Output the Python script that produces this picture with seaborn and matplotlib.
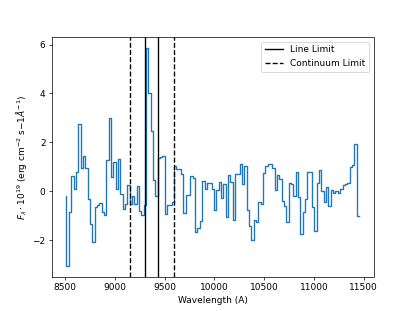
import numpy as np
import pandas as pd
import matplotlib
matplotlib.use("Agg")
import matplotlib.pyplot as plt
import seaborn as sns

wavelength = [
    8514.0, 8537.5, 8561.0, 8584.5, 8608.0, 8631.5, 8655.0, 8678.5, 8702.0, 8725.5,
    8749.0, 8772.5, 8796.0, 8819.5, 8843.0, 8866.5, 8890.0, 8913.5, 8937.0, 8960.5,
    8984.0, 9007.5, 9031.0, 9054.5, 9078.0, 9101.5, 9125.0, 9148.5, 9172.0, 9195.5,
    9219.0, 9242.5, 9266.0, 9289.5, 9313.0, 9336.5, 9360.0, 9383.5, 9407.0, 9430.5,
    9454.0, 9477.5, 9501.0, 9524.5, 9548.0, 9571.5, 9595.0, 9618.5, 9642.0, 9665.5,
    9689.0, 9712.5, 9736.0, 9759.5, 9783.0, 9806.5, 9830.0, 9853.5, 9877.0, 9900.5,
    9924.0, 9947.5, 9971.0, 9994.5, 10018.0, 10041.5, 10065.0, 10088.5, 10112.0, 10135.5,
    10159.0, 10182.5, 10206.0, 10229.5, 10253.0, 10276.5, 10300.0, 10323.5, 10347.0, 10370.5,
    10394.0, 10417.5, 10441.0, 10464.5, 10488.0, 10511.5, 10535.0, 10558.5, 10582.0, 10605.5,
    10629.0, 10652.5, 10676.0, 10699.5, 10723.0, 10746.5, 10770.0, 10793.5, 10817.0, 10840.5,
    10864.0, 10887.5, 10911.0, 10934.5, 10958.0, 10981.5, 11005.0, 11028.5, 11052.0, 11075.5,
    11099.0, 11122.5, 11146.0, 11169.5, 11193.0, 11216.5, 11240.0, 11263.5, 11287.0, 11310.5,
    11334.0, 11357.5, 11381.0, 11404.5, 11428.0, 11451.5,
]

flux = [
    -0.2, -3.05, -0.86, 0.61, 0.10, 0.79, 2.74, 0.97, 1.43, 0.97,
    -0.31, -1.34, -2.09, -0.65, -0.58, -0.47, -0.86, -0.97, 1.27, 3.0,
    0.58, 1.2, 0.1, 1.34, -0.1, -0.72, -0.51, 0.24, -0.5, -0.2,
    -0.5, 0.2, -0.8, -0.95, -0.55, 5.85, 4.0, 2.45, 0.45, -0.2,
    1.38, 1.4, 1.43, -0.93, -0.58, -0.58, -0.45, 1.02, 0.93, 0.93,
    0.72, -0.9, -0.17, -0.17, 0.61, 0.55, -1.65, -1.5, -1.2, 0.44,
    0.1, 0.33, 0.33, 0.1, -0.76, 0.05, 0.37, -0.27, 0.31, -1.04,
    0.65, 0.37, -1.17, 0.72, 0.72, 1.13, 0.31, 1.02, -0.76, -1.41,
    -2.0, -1.17, -1.25, -0.45, -0.5, 0.75, 1.05, 1.13, 1.13, 0.95,
    0.06, 0.68, 0.5, -0.38, -0.6, -1.27, 0.33, 0.3, -0.2, 0.79,
    -0.24, -1.75, -0.86, -0.3, 0.79, 0.79, -0.65, -1.64, 0.33, 0.86,
    0.0, -0.45, 0.17, -0.6, 0.06, -0.05, 0.0, -0.08, 0.1, 0.24,
    0.3, 0.35, 0.99, 1.06, 1.95, -1.0,
]

line_limits = [9300, 9435]
continuum_limits = [9150, 9593]

df = pd.DataFrame({"wavelength": wavelength, "flux": flux})

fig = plt.figure(figsize=(415 / 65, 311 / 65), dpi=65)
ax = fig.add_subplot(111)

sns.lineplot(data=df, x="wavelength", y="flux", drawstyle="steps-pre",
             color="#1f77b4", linewidth=1.5, ax=ax, sort=False)

for i, v in enumerate(line_limits):
    ax.axvline(v, color="black", linestyle="-", label="Line Limit" if i == 0 else None)
for i, v in enumerate(continuum_limits):
    ax.axvline(v, color="black", linestyle="--", label="Continuum Limit" if i == 0 else None)

ax.set_xlabel("Wavelength (A)")
ax.set_ylabel(r"$F_{\lambda} \cdot 10^{19}$ (erg cm$^{-2}$ s$-1\AA^{-1}$)")
ax.legend(loc="upper right")

fig.savefig("out.png", dpi=65)
